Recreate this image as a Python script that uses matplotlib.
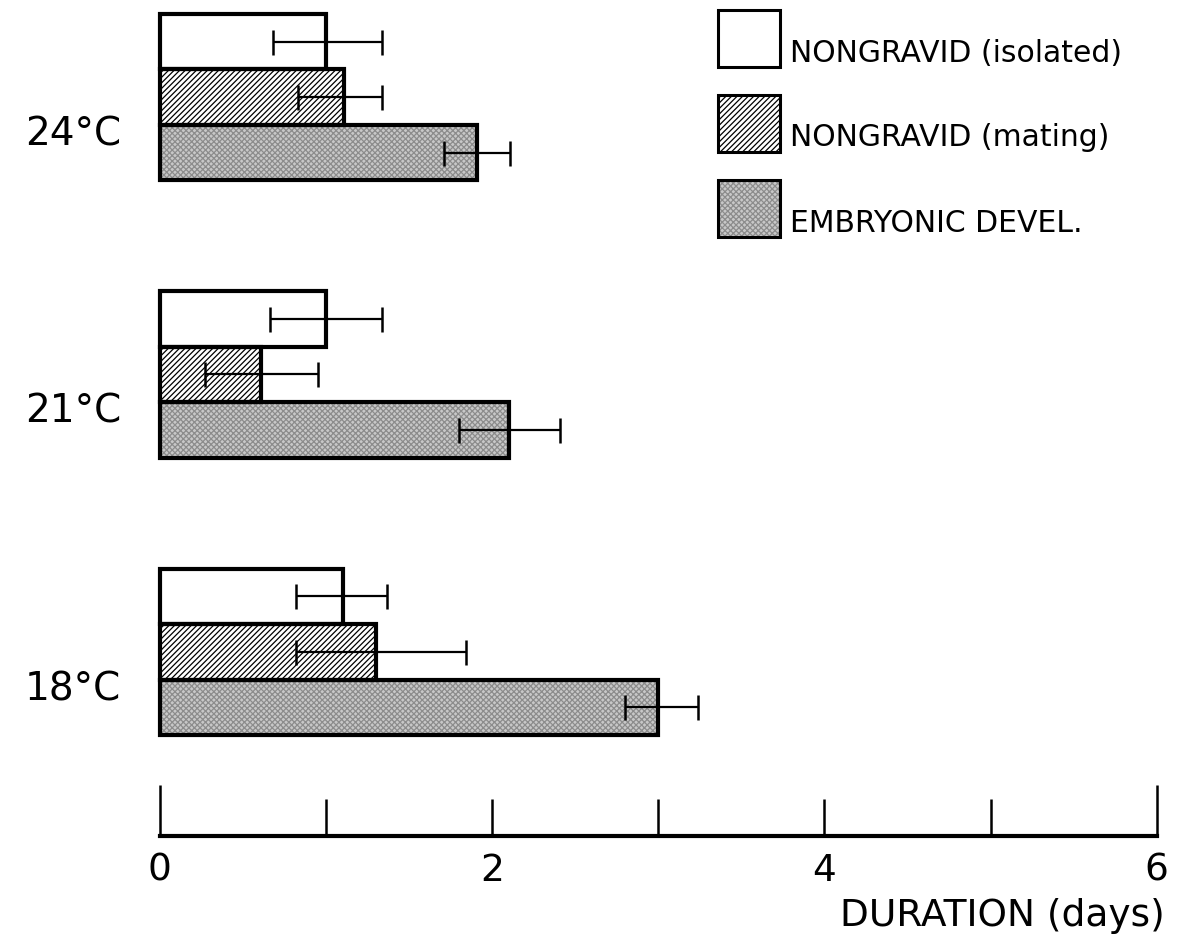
import numpy as np
import matplotlib
matplotlib.use('Agg')
import matplotlib.pyplot as plt
from matplotlib.patches import Rectangle
from matplotlib.ticker import FixedLocator, FixedFormatter

temps = ['18°C', '21°C', '24°C']
series = ['NONGRAVID (isolated)', 'NONGRAVID (mating)', 'EMBRYONIC DEVEL.']

# mean duration (days) per temperature, order 18, 21, 24
isolated = [1.10, 1.00, 1.00]
mating = [1.30, 0.61, 1.11]
embryo = [3.00, 2.10, 1.91]

# error bar ends (low, high)
isolated_lo = [0.82, 0.66, 0.68]
isolated_hi = [1.37, 1.34, 1.34]
mating_lo = [0.82, 0.27, 0.83]
mating_hi = [1.84, 0.95, 1.34]
embryo_lo = [2.80, 1.80, 1.71]
embryo_hi = [3.24, 2.41, 2.11]

plt.rcParams['font.family'] = ['DejaVu Sans']
plt.rcParams['hatch.linewidth'] = 0.9

fig = plt.figure(figsize=(11.84, 9.42), dpi=100)
ax = fig.add_axes([0.135, 0.1125, 0.842, 0.8875])

centers = np.array([0, 5, 10])
offsets = [1, 0, -1]
vals = [isolated, mating, embryo]
los = [isolated_lo, mating_lo, embryo_lo]
his = [isolated_hi, mating_hi, embryo_hi]

styles = [
    dict(color='white', hatch=None, hc='black'),
    dict(color='white', hatch='//////', hc='black'),
    dict(color='#c8c8c8', hatch='xxxxxx', hc='#8c8c8c'),
]

for v, lo, hi, off, st in zip(vals, los, his, offsets, styles):
    y = centers + off
    v = np.array(v)
    # fill + hatch
    ax.barh(y, v, height=1.0, color=st['color'], hatch=st['hatch'],
            edgecolor=st['hc'], linewidth=0, clip_on=False, zorder=1)
    # outline
    ax.barh(y, v, height=1.0, fill=False, edgecolor='black', linewidth=3,
            clip_on=False, zorder=2)
    err = np.vstack([v - np.array(lo), np.array(hi) - v])
    ax.errorbar(v, y, xerr=err, fmt='none', ecolor='black', elinewidth=1.6,
                capsize=9, capthick=1.8, zorder=3, clip_on=False)

ax.set_xlim(0, 6)
ax.set_ylim(-3.32, 11.75)

for s in ['top', 'right', 'left']:
    ax.spines[s].set_visible(False)
ax.spines['bottom'].set_linewidth(3)

ax.set_yticks(centers - 0.6)
ax.set_yticklabels(temps, fontsize=28)
ax.tick_params(axis='y', length=0, pad=28)

ax.xaxis.set_major_locator(FixedLocator([0, 6]))
ax.xaxis.set_major_formatter(FixedFormatter(['0', '6']))
ax.xaxis.set_minor_locator(FixedLocator([1, 2, 3, 4, 5]))
ax.xaxis.set_minor_formatter(FixedFormatter(['', '2', '', '4', '']))
ax.tick_params(axis='x', which='major', direction='in', length=37, width=1.8,
               labelsize=27, pad=12)
ax.tick_params(axis='x', which='minor', direction='in', length=27, width=1.8,
               labelsize=27, pad=12)

fig.text(0.984, 0.028, 'DURATION (days)', fontsize=27, ha='right', va='center')

# legend
box_x, box_w, box_h = 718 / 1184, 62 / 1184, 57 / 942
box_tops = [10, 95, 180]
for lab, st, top in zip(series, styles, box_tops):
    yb = 1 - (top + 57) / 942
    fig.add_artist(Rectangle((box_x, yb), box_w, box_h, transform=fig.transFigure,
                             facecolor=st['color'], hatch=st['hatch'],
                             edgecolor=st['hc'], linewidth=0))
    fig.add_artist(Rectangle((box_x, yb), box_w, box_h, transform=fig.transFigure,
                             fill=False, edgecolor='black', linewidth=2.2))
    fig.text(790 / 1184, yb + 14 / 942, lab, fontsize=21.5, ha='left', va='center')

fig.savefig('out.png', dpi=100)
